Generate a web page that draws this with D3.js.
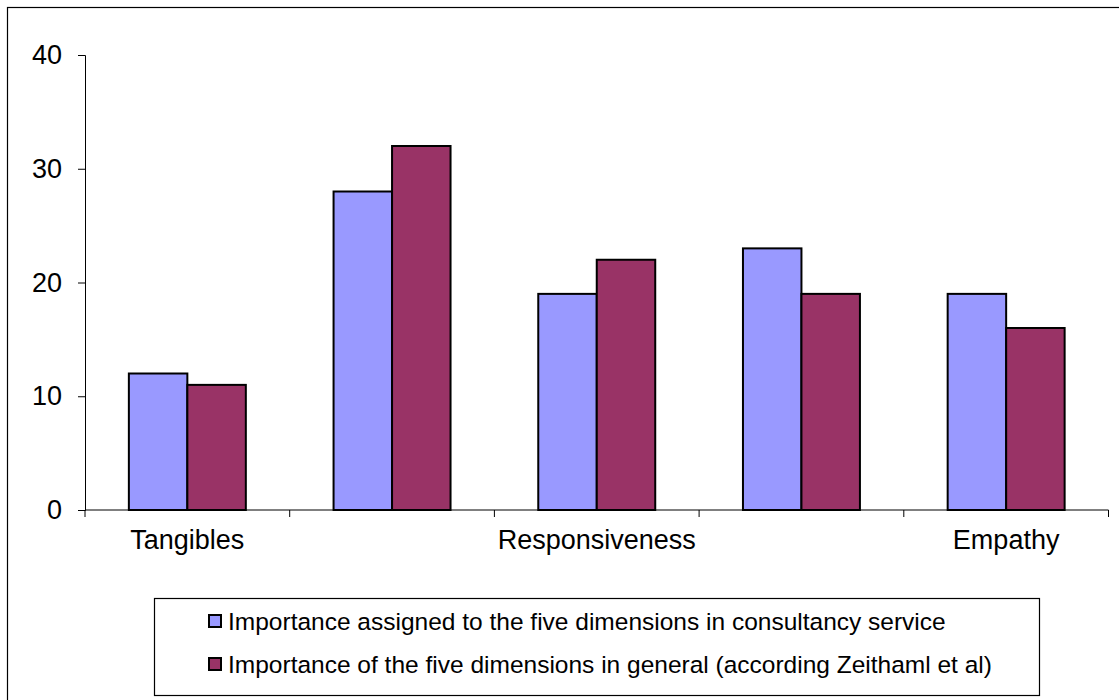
<!DOCTYPE html>
<html>
<head>
<meta charset="utf-8">
<script src="https://cdn.jsdelivr.net/npm/d3@7"></script>
<style>
  html, body { margin: 0; padding: 0; background: #fff; }
  svg { display: block; font-family: "Liberation Sans", Arial, sans-serif; }
</style>
</head>
<body>
<svg id="chart" width="1119" height="700"></svg>
<script>
// SERVQUAL dimensions and their importance scores
const categories = ["Tangibles", "Reliability", "Responsiveness", "Assurance", "Empathy"];
const shownLabels = ["Tangibles", "Responsiveness", "Empathy"];
const consultancy = [12, 28, 19, 23, 19];
const general = [11, 32, 22, 19, 16];
const seriesNames = [
  "Importance assigned to the five dimensions in consultancy service",
  "Importance of the five dimensions in general (according Zeithaml et al)"
];
const seriesColors = ["#9999ff", "#993366"];
const yTicks = [0, 10, 20, 30, 40];

const svg = d3.select("#chart");

// outer chart frame (runs past the right and bottom edges)
svg.append("rect")
  .attr("x", 7.5).attr("y", 7.5)
  .attr("width", 1130).attr("height", 710)
  .attr("fill", "none").attr("stroke", "#000").attr("stroke-width", 1.2);

const plot = { left: 85, right: 1108.5, top: 55, bottom: 510 };

const x = d3.scaleBand()
  .domain(categories)
  .range([plot.left, plot.right])
  .paddingInner(0).paddingOuter(0);

const y = d3.scaleLinear().domain([0, 40]).range([plot.bottom, plot.top]);

const groupWidth = x.bandwidth() / 1.75;   // two bars, gap = 150% of a bar
const barW = groupWidth / 2;

const data = categories.map((c, i) => ({ cat: c, values: [consultancy[i], general[i]] }));

const groups = svg.append("g").selectAll("g")
  .data(data).join("g")
  .attr("transform", d => `translate(${x(d.cat) + (x.bandwidth() - groupWidth) / 2},0)`);

groups.selectAll("rect")
  .data(d => d.values.map((v, k) => ({ v, k })))
  .join("rect")
  .attr("x", d => d.k * barW)
  .attr("y", d => y(d.v))
  .attr("width", barW)
  .attr("height", d => y(0) - y(d.v))
  .attr("fill", d => seriesColors[d.k])
  .attr("stroke", "#000")
  .attr("stroke-width", 2);

// y axis
const yAxis = d3.axisLeft(y).tickValues(yTicks).tickSize(7).tickPadding(16);
const yg = svg.append("g").attr("transform", `translate(${plot.left},0)`).call(yAxis);
yg.select(".domain").attr("stroke", "#000").attr("stroke-width", 1);
yg.selectAll(".tick line").attr("stroke", "#000");
yg.selectAll(".tick text")
  .attr("font-size", 27).attr("fill", "#000")
  .attr("font-family", "'Liberation Sans', Arial, sans-serif");

// x axis with ticks at category boundaries
const boundaries = categories.map(c => x(c)).concat([plot.right]);
const xg = svg.append("g");
xg.append("line")
  .attr("x1", plot.left).attr("x2", plot.right)
  .attr("y1", y(0)).attr("y2", y(0))
  .attr("stroke", "#000").attr("stroke-width", 1);
xg.selectAll("line.tk").data(boundaries).join("line")
  .attr("class", "tk")
  .attr("x1", d => d).attr("x2", d => d)
  .attr("y1", y(0)).attr("y2", y(0) + 7)
  .attr("stroke", "#000");
xg.selectAll("text").data(shownLabels).join("text")
  .attr("x", d => x(d) + x.bandwidth() / 2)
  .attr("y", y(0) + 39)
  .attr("text-anchor", "middle")
  .attr("font-size", 27)
  .attr("fill", "#000")
  .text(d => d);

// legend
const legend = svg.append("g");
legend.append("rect")
  .attr("x", 154.5).attr("y", 598.5)
  .attr("width", 885).attr("height", 97)
  .attr("fill", "#fff").attr("stroke", "#000").attr("stroke-width", 1.2);
const items = legend.selectAll("g.item").data(seriesNames).join("g")
  .attr("class", "item")
  .attr("transform", (d, i) => `translate(209,${621 + i * 43})`);
items.append("rect")
  .attr("x", 0).attr("y", -6)
  .attr("width", 12).attr("height", 12)
  .attr("fill", (d, i) => seriesColors[i])
  .attr("stroke", "#000").attr("stroke-width", 2);
items.append("text")
  .attr("x", 19).attr("y", 9)
  .attr("font-size", 24.5)
  .attr("fill", "#000")
  .text(d => d);
</script>
</body>
</html>
